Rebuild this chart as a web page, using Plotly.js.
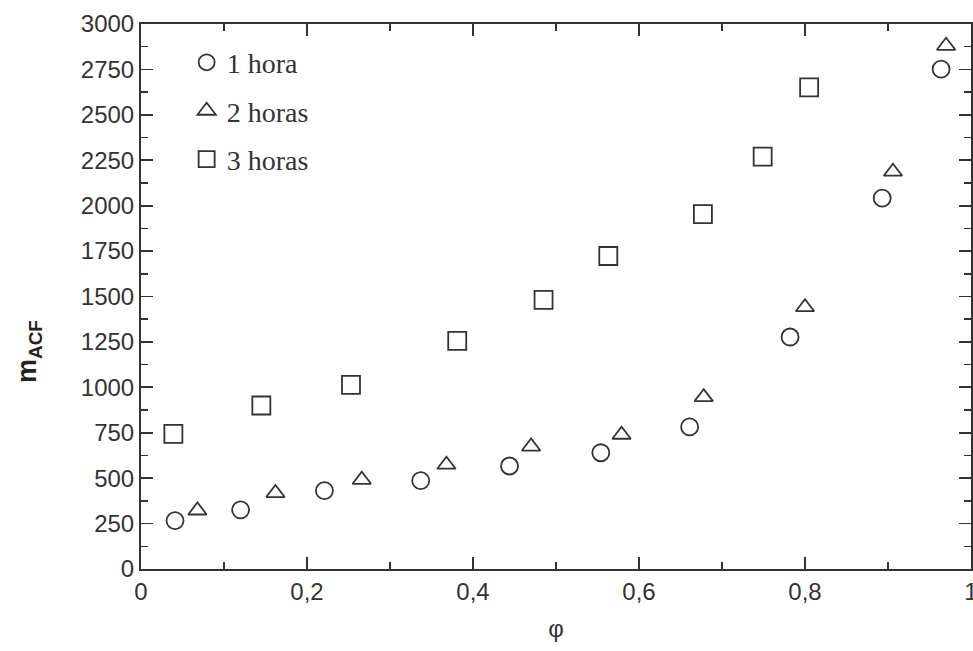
<!DOCTYPE html>
<html>
<head>
<meta charset="utf-8">
<script src="https://cdn.plot.ly/plotly-3.0.1.min.js"></script>
<style>html,body{margin:0;padding:0;background:#fff;}#chart{width:973px;height:651px;}</style>
</head>
<body>
<div id="chart"></div>
<script>
// 1 hora
const phi1 = [0.041, 0.120, 0.221, 0.337, 0.444, 0.554, 0.661, 0.782, 0.893, 0.964];
const m1   = [266, 326, 431, 486, 567, 640, 782, 1277, 2041, 2752];
// 2 horas
const phi2 = [0.068, 0.162, 0.266, 0.368, 0.470, 0.579, 0.678, 0.800, 0.906, 0.970];
const m2   = [322, 418, 491, 574, 674, 739, 946, 1441, 2187, 2880];
// 3 horas
const phi3 = [0.039, 0.145, 0.253, 0.381, 0.485, 0.563, 0.677, 0.749, 0.805];
const m3   = [744, 900, 1014, 1256, 1481, 1723, 1953, 2270, 2651];
const names = ['1 hora', '2 horas', '3 horas'];
const xTicks = [0, 0.2, 0.4, 0.6, 0.8, 1];
const xTickText = ['0', '0,2', '0,4', '0,6', '0,8', '1'];

const ink = '#333';
function tr(x, y, name, symbol, size, g) {
  return {x: x, y: y, name: name, type: 'scatter', mode: 'markers', legendgroup: g,
    marker: {symbol: symbol, size: size, color: ink, line: {color: ink, width: 1.8}}};
}
const data = [
  tr(phi1, m1, names[0], 'circle-open', 17, 'a'),
  tr(phi2, m2, names[1], 'triangle-up-open', 16, 'b'),
  tr(phi3, m3, names[2], 'square-open', 18, 'c')
];
const axisCommon = {
  showgrid: false, zeroline: false, showline: true, linecolor: ink, linewidth: 2,
  mirror: 'ticks', ticks: 'inside', ticklen: 12, tickwidth: 1.8, tickcolor: ink,
  tickfont: {family: 'Liberation Sans, Arial, sans-serif', size: 24, color: '#333'}
};
const layout = {
  width: 973, height: 651,
  margin: {l: 141, r: 2, t: 24, b: 82},
  paper_bgcolor: '#fff', plot_bgcolor: '#fff',
  separators: ', ',
  showlegend: true,
  legend: {x: 0.055, y: 0.975, xanchor: 'left', yanchor: 'top', tracegroupgap: 9,
    itemsizing: 'trace',
    bgcolor: 'rgba(0,0,0,0)', font: {family: 'Liberation Serif, Times New Roman, serif', size: 28, color: '#333'}},
  xaxis: Object.assign({}, axisCommon, {
    range: [0, 1.00001], tickvals: xTicks, ticktext: xTickText, ticklabeloverflow: 'allow',
    minor: {tickvals: [0.1, 0.3, 0.5, 0.7, 0.9], ticks: 'inside', ticklen: 7, tickwidth: 1.5, tickcolor: ink},
    title: {text: 'φ', font: {family: 'Liberation Sans, Arial, sans-serif', size: 24, color: '#333'}, standoff: 16}
  }),
  yaxis: Object.assign({}, axisCommon, {
    range: [0, 3000], dtick: 250, tick0: 0,
    minor: {dtick: 125, ticks: 'inside', ticklen: 7, tickwidth: 1.5, tickcolor: ink}
  }),
  annotations: [{
    text: '<b>m<sub>ACF</sub></b>', textangle: -90, showarrow: false,
    xref: 'paper', yref: 'paper', x: -0.135, y: 0.40, xanchor: 'center', yanchor: 'middle',
    font: {family: 'Liberation Sans, Arial, sans-serif', size: 27, color: '#222'}
  }]
};
Plotly.newPlot('chart', data, layout, {displayModeBar: false, staticPlot: true});
</script>
</body>
</html>
